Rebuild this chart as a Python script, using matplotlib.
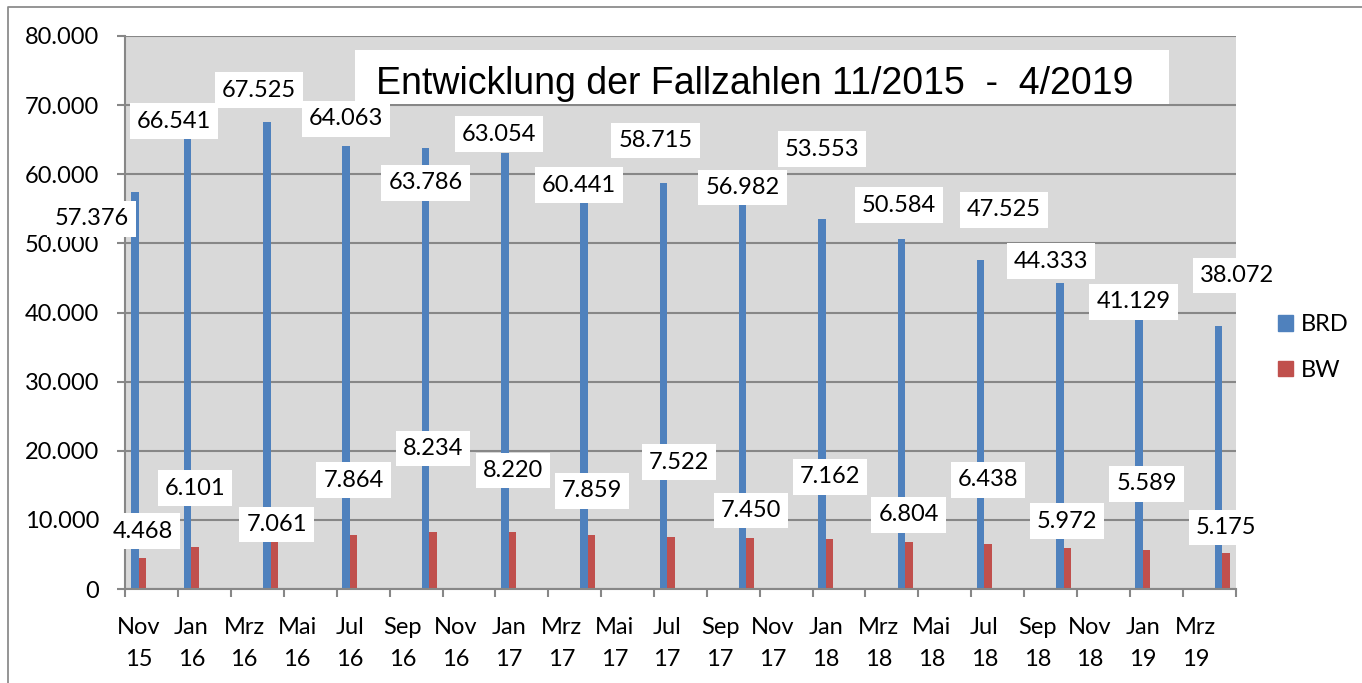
import matplotlib
matplotlib.use("Agg")
import matplotlib.pyplot as plt
import numpy as np
import pandas as pd
from matplotlib.patches import Rectangle, Patch
from matplotlib.lines import Line2D
from matplotlib.ticker import FuncFormatter, MultipleLocator

# ---------------- data ----------------
months = ["2015-11", "2016-01", "2016-04", "2016-07", "2016-10", "2017-01", "2017-04",
          "2017-07", "2017-10", "2018-01", "2018-04", "2018-07", "2018-10", "2019-01", "2019-04"]
brd = [57376, 66541, 67525, 64063, 63786, 63054, 60441, 58715, 56982, 53553,
       50584, 47525, 44333, 41129, 38072]
bw = [4468, 6101, 7061, 7864, 8234, 8220, 7859, 7522, 7450, 7162,
      6804, 6438, 5972, 5589, 5175]
tick_labels = ["Nov\n15", "Jan\n16", "Mrz\n16", "Mai\n16", "Jul\n16", "Sep\n16", "Nov\n16",
               "Jan\n17", "Mrz\n17", "Mai\n17", "Jul\n17", "Sep\n17", "Nov\n17",
               "Jan\n18", "Mrz\n18", "Mai\n18", "Jul\n18", "Sep\n18", "Nov\n18",
               "Jan\n19", "Mrz\n19"]
series_names = ["BRD", "BW"]
title = "Entwicklung der Fallzahlen 11/2015  -  4/2019"

# label offsets (pixels, relative to top of bar at slot centre) - manual Excel placement
brd_offsets = [(-47, -26.6), (-17.4, 8), (-12, 32.2), (-4, 27.2), (-3.7, -34.9),
               (-9.5, 19.1), (-8.8, -13.8), (-11.6, 42.6), (-3.9, 7.6), (-3.7, 69.8),
               (-6, 34.3), (19.7, 50.5), (-12.6, 21.5), (-9.4, 2.7), (14.8, 50.3)]
bw_offsets = [(4, 27.1), (3.6, 58.8), (6, 15.6), (3.5, 54.6), (3.8, 83.4),
              (4.2, 61.4), (4.2, 43.7), (11.9, 75), (4.6, 27), (4, 62.5),
              (3.5, 27), (3.7, 64.5), (3.4, 26.7), (3.8, 66.4), (3.8, 25.7)]

BLUE = "#4F81BD"
RED = "#C0504D"
GRID = "#878787"
FONT = "Lato"
FS = 17

def fmt(v):
    return f"{int(round(v)):,}".replace(",", ".")

W, H = 1362, 683
fig = plt.figure(figsize=(W / 100, H / 100), dpi=100)
fig.patch.set_facecolor("white")

ax_l, ax_r, ax_t, ax_b = 125.3, 1235.5, 36, 589
ax = fig.add_axes([ax_l / W, 1 - ax_b / H, (ax_r - ax_l) / W, (ax_b - ax_t) / H])
ax.set_facecolor("#D9D9D9")

start = pd.Period(months[0], "M")
x = np.array([(pd.Period(m, "M") - start).n for m in months]) + 0.5
w = 0.284
ax.bar(x - w / 2, brd, width=w, color=BLUE, zorder=2)
ax.bar(x + w / 2, bw, width=w, color=RED, zorder=2)

ax.set_xlim(0, 42)
ax.set_ylim(0, 80000)
ax.yaxis.set_major_locator(MultipleLocator(10000))
ax.yaxis.set_major_formatter(FuncFormatter(lambda v, p: fmt(v)))
ax.grid(axis="y", color=GRID, lw=1.5)
ax.set_axisbelow(True)

ax.set_xticks(np.arange(0, 43, 2))
ax.set_xticklabels([])
ax.set_xticks(np.arange(0.5, 42, 2), minor=True)
ax.set_xticklabels(tick_labels, minor=True, fontsize=FS, family=FONT)
for t in ax.get_xticklabels(minor=True):
    t.set_linespacing(1.65)
ax.tick_params(axis="x", which="minor", length=0, pad=20)
ax.tick_params(axis="both", which="major", length=5.8, width=1.5, color=GRID)
ax.tick_params(axis="y", pad=13, labelsize=FS)
for lab in ax.get_yticklabels():
    lab.set_family(FONT)
for s in ["top", "right"]:
    ax.spines[s].set_visible(False)
for s in ["left", "bottom"]:
    ax.spines[s].set_color(GRID)
    ax.spines[s].set_linewidth(1.5)

box = dict(boxstyle="square,pad=0.3", fc="white", ec="none")
for xi, v, off in zip(x, brd, brd_offsets):
    ax.annotate(fmt(v), xy=(xi, v), xytext=off, textcoords="offset pixels",
                ha="center", va="center", fontsize=FS, family=FONT, bbox=box,
                zorder=5, annotation_clip=False)
for xi, v, off in zip(x, bw, bw_offsets):
    ax.annotate(fmt(v), xy=(xi, v), xytext=off, textcoords="offset pixels",
                ha="center", va="center", fontsize=FS, family=FONT, bbox=box,
                zorder=5, annotation_clip=False)

# title box
fig.add_artist(Rectangle((355 / W, 1 - 104.3 / H), 814 / W, 54.3 / H,
                         transform=fig.transFigure, fc="white", ec="none", zorder=6))
fig.text(754.5 / W, 1 - 93.5 / H, title, ha="center", va="baseline",
         fontsize=27, family="Liberation Sans", zorder=7)

# legend
handles = [Patch(color=BLUE), Patch(color=RED)]
fig.legend(handles, series_names, loc="center left",
           bbox_to_anchor=(1278 / W, 1 - 347.4 / H), frameon=False,
           prop={"family": FONT, "size": FS}, handlelength=0.64, handleheight=0.64,
           handletextpad=0.33, labelspacing=1.05, borderpad=0, borderaxespad=0)

# chart border (top and left visible)
fig.add_artist(Line2D([8 / W, 8 / W, 1], [0, 1 - 7 / H, 1 - 7 / H],
                      transform=fig.transFigure, color="#8C8C8C", lw=1.3))

fig.savefig("out.png", dpi=100)
